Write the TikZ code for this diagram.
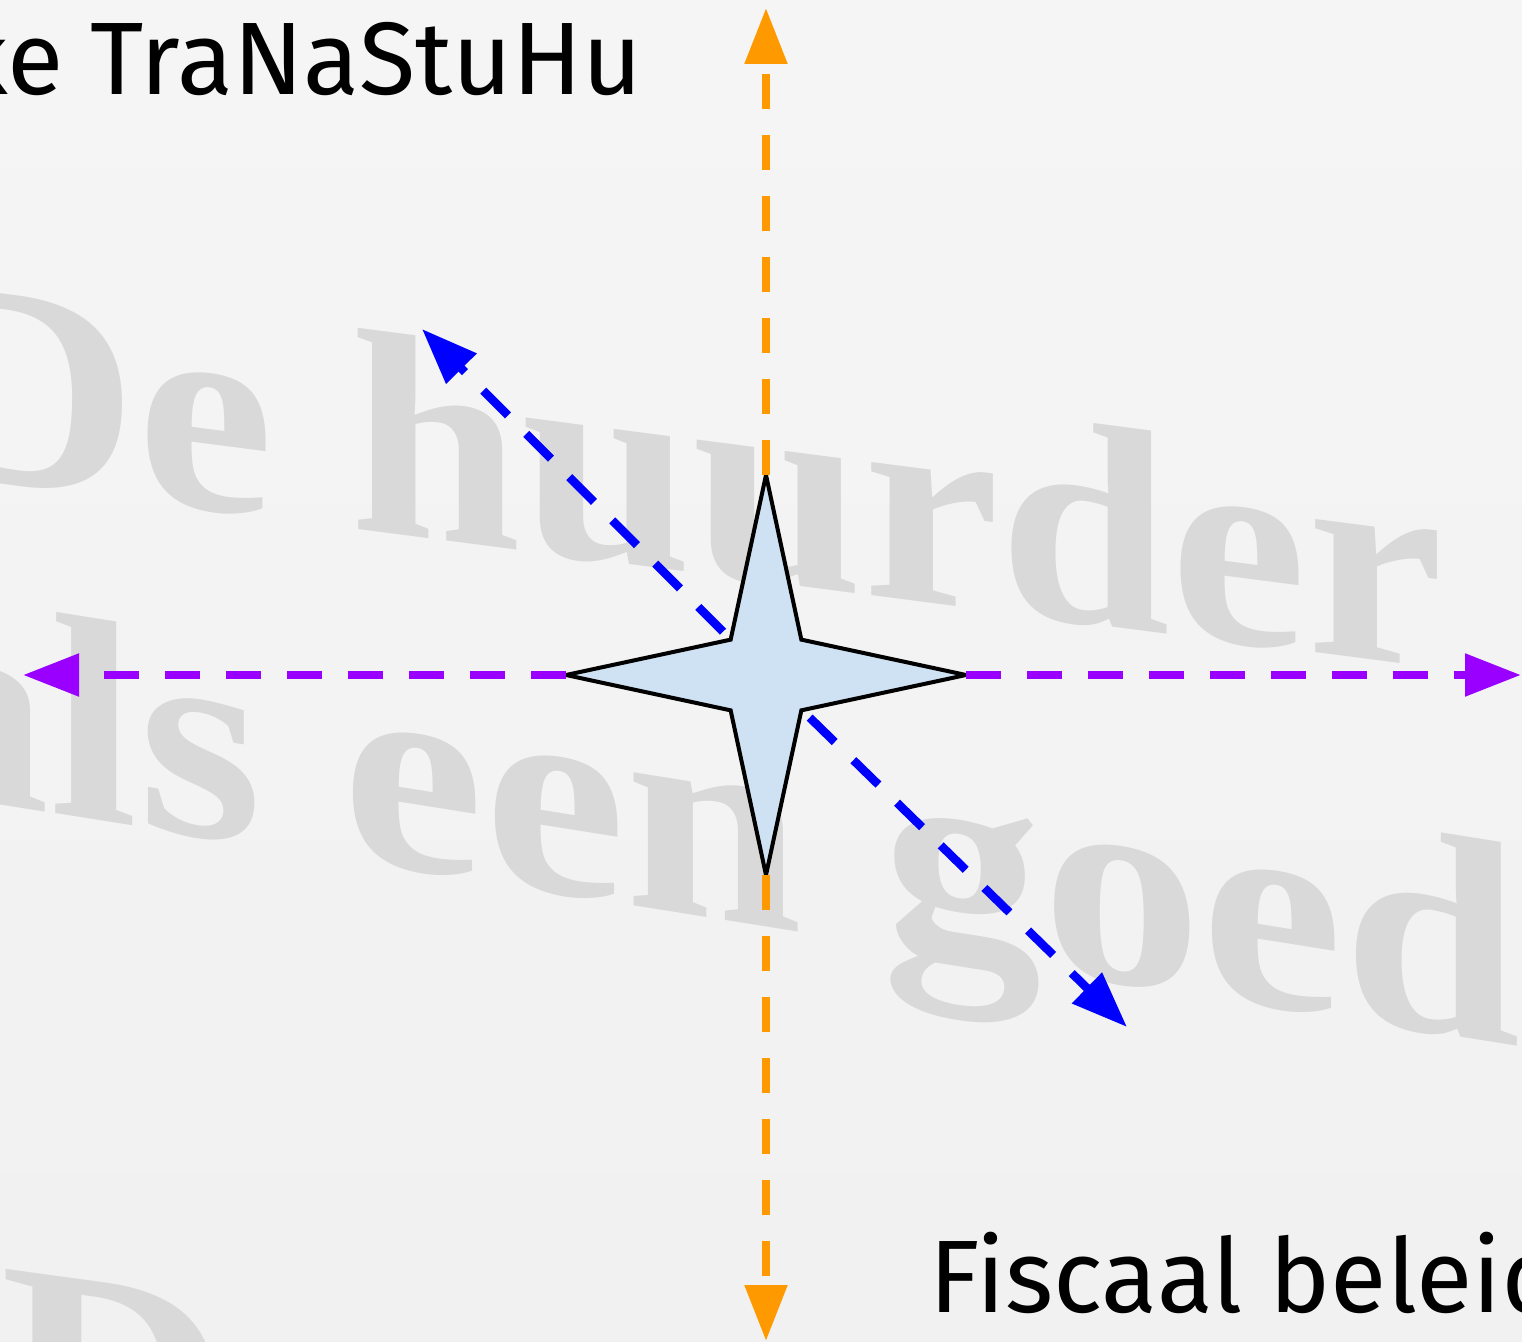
\documentclass[tikz,border=0pt]{standalone}
\usepackage{fontspec}
\setmainfont{Fira Sans}
\newfontfamily\bgserif{Liberation Serif}
\usetikzlibrary{arrows.meta,shapes.geometric}
\definecolor{bgtop}{HTML}{F5F5F5}
\definecolor{bgbot}{HTML}{F1F1F1}
\definecolor{ghost}{HTML}{D9D9D9}
\definecolor{cOrange}{HTML}{FF9900}
\definecolor{cPurple}{HTML}{9900FF}
\definecolor{cBlue}{HTML}{0000FF}
\definecolor{starfill}{HTML}{CFE2F3}
\begin{document}
\begin{tikzpicture}[x=0.5pt,y=-0.5pt,
  conn/.style={line width=4.25pt, dash pattern=on 17.5pt off 13pt, -{Triangle[length=28pt,width=20.5pt]}},
  ghosttext/.style={font=\bgserif\bfseries\fontsize{145}{150}\selectfont, text=ghost, inner sep=0pt, anchor=base west, transform shape},
  lbl/.style={font=\fontsize{51.5}{60}\selectfont, inner sep=0pt, text=black},
  starbox/.style={star, star points=4, star point ratio=4, minimum size=200pt, inner sep=0pt, outer sep=0pt, draw=black, line width=2pt, fill=starfill}]
\useasboundingbox (0,0) rectangle (1522,1342);
\clip (0,0) rectangle (1522,1342);
\shade[top color=bgtop,bottom color=bgbot] (0,0) rectangle (1522,1342);
% blurred background lettering
\begin{scope}[shift={(-85,472)}]
  \node[ghosttext, xscale=1.06, yslant=-0.137] (g1) at (0,0) {De huurder};
\end{scope}
\begin{scope}[shift={(-110,787)}]
  \node[ghosttext, xscale=1.1, yslant=-0.175] (g2) at (0,0) {als een goed};
\end{scope}
\begin{scope}[shift={(0,1458)}]
  \node[ghosttext, xscale=1.1, yslant=-0.15] (g3) at (0,0) {D};
\end{scope}
% coordinates
\coordinate (c) at (766,675);
\coordinate (ot) at (766,8);
\coordinate (ob) at (766,1341);
\coordinate (pl) at (23,675);
\coordinate (pr) at (1521,675);
\coordinate (bt) at (422,329);
\coordinate (bb) at (1127,1027);
% diagonal connectors (under the star)
\draw[conn, cBlue] (c) -- (bt);
\draw[conn, cBlue] (c) -- (bb);
% star
\node[starbox] (s) at (c) {};
% vertical and horizontal connectors
\draw[conn, cOrange] (s.90) -- (ot);
\draw[conn, cOrange] (s.270) -- (ob);
\draw[conn, cPurple] (s.180) -- (pl);
\draw[conn, cPurple] (s.0) -- (pr);
% labels
\node[lbl, anchor=base east] (t1) at (643,95) {ke TraNaStuHu};
\node[lbl, anchor=base west] (t2) at (929,1312) {Fiscaal beleid};
\end{tikzpicture}
\end{document}
